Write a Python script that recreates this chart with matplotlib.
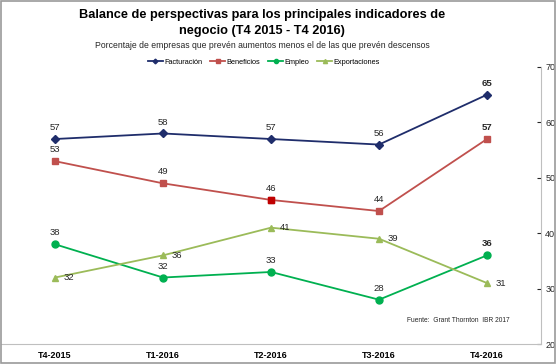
import matplotlib
matplotlib.use("Agg")
import matplotlib.pyplot as plt
from matplotlib.patches import Rectangle

plt.rcParams['font.family'] = ['Liberation Sans', 'DejaVu Sans']

periodos = ['T4-2015', 'T1-2016', 'T2-2016', 'T3-2016', 'T4-2016']
facturacion = [57, 58, 57, 56, 65]
beneficios = [53, 49, 46, 44, 57]
empleo = [38, 32, 33, 28, 36]
exportaciones = [32, 36, 41, 39, 31]

c_fac = '#1F2D6B'
c_ben = '#C0504D'
c_emp = '#00B050'
c_exp = '#9BBB59'

fig = plt.figure(figsize=(5.57, 3.64), dpi=100)
fig.patches.append(Rectangle((0.002, 0.003), 0.995, 0.993, transform=fig.transFigure,
                             fill=False, edgecolor='#9A9A9A', lw=1.2))

ax = fig.add_axes([1 / 557, 20 / 364, 540 / 557, 277 / 364])
x = list(range(len(periodos)))

ax.plot(x, facturacion, color=c_fac, lw=1.3, marker='D', ms=4, label='Facturación')
ax.plot(x, beneficios, color=c_ben, lw=1.3, marker='s', ms=5, label='Beneficios')
ax.plot(x, empleo, color=c_emp, lw=1.3, marker='o', ms=5, label='Empleo')
ax.plot(x, exportaciones, color=c_exp, lw=1.3, marker='^', ms=5, label='Exportaciones')
# marcador destacado en T2-2016
ax.plot([x[2]], [beneficios[2]], ls='none', marker='s', ms=5, color='#C00000')

last = len(x) - 1
for serie in (facturacion, beneficios, empleo):
    for i, v in enumerate(serie):
        ax.annotate(str(v), (i, v), xytext=(0, 5), textcoords='offset points',
                    ha='center', va='bottom', fontsize=6.8, color='#262626',
                    fontweight='bold' if i == last else 'normal')
for i, v in enumerate(exportaciones):
    ax.annotate(str(v), (i, v), xytext=(6, 0), textcoords='offset points',
                ha='left', va='center', fontsize=6.8, color='#262626')

ax.set_xlim(-0.5, 4.5)
ax.set_ylim(20, 70)
ax.set_xticks(x)
ax.set_xticklabels(periodos, fontsize=6.5, fontweight='bold')
ax.set_yticks([20, 30, 40, 50, 60, 70])
ax.yaxis.tick_right()
ax.tick_params(axis='y', direction='in', length=3, labelsize=6.5, pad=3, colors='#262626')
ax.tick_params(axis='x', length=0, pad=5)
for s in ('top', 'left'):
    ax.spines[s].set_visible(False)
ax.spines['right'].set_color('#BFBFBF')
ax.spines['bottom'].set_color('#BFBFBF')

ax.legend(loc='upper center', bbox_to_anchor=(0.487, 1.055), ncol=4, frameon=False,
          fontsize=5.3, handlelength=2.0, handletextpad=0.2, columnspacing=1.1,
          markerscale=0.6)

fig.text(262 / 557, 1 - 15 / 364, 'Balance de perspectivas para los principales indicadores de',
         ha='center', va='center', fontsize=9.2, fontweight='bold')
fig.text(262 / 557, 1 - 31 / 364, 'negocio (T4 2015 - T4 2016)',
         ha='center', va='center', fontsize=9.2, fontweight='bold')
fig.text(262 / 557, 1 - 45 / 364,
         'Porcentaje de empresas que prevén aumentos menos el de las que prevén descensos',
         ha='center', va='center', fontsize=6.2, color='#262626')
fig.text(510 / 557, 1 - 320 / 364, 'Fuente:  Grant Thornton  IBR 2017',
         ha='right', va='center', fontsize=4.8, color='#262626')

fig.savefig('out.png', dpi=100)
